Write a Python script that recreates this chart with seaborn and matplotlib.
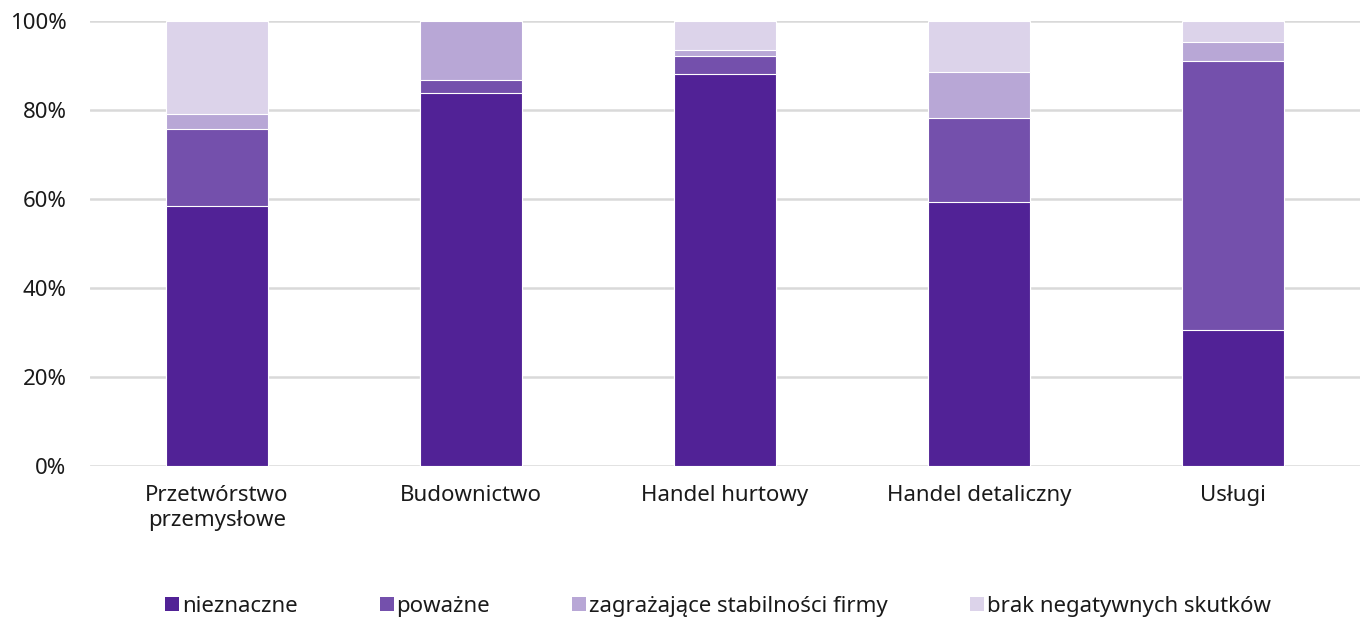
import pandas as pd
import numpy as np
import seaborn as sns
import matplotlib.pyplot as plt
from matplotlib.patches import Patch

categories = ["Przetwórstwo\nprzemysłowe", "Budownictwo", "Handel hurtowy", "Handel detaliczny", "Usługi"]
series_names = ["nieznaczne", "poważne", "zagrażające stabilności firmy", "brak negatywnych skutków"]
nieznaczne = [58.4, 83.8, 88.1, 59.3, 30.6]
powazne = [17.3, 2.9, 4.0, 18.9, 60.4]
zagrazajace = [3.4, 13.3, 1.4, 10.3, 4.3]
brak = [20.9, 0.0, 6.5, 11.5, 4.7]
colors = ["#512296", "#7450ac", "#b8a7d6", "#dcd3ea"]

df = pd.DataFrame({"kategoria": categories, series_names[0]: nieznaczne, series_names[1]: powazne,
                   series_names[2]: zagrazajace, series_names[3]: brak})
cum = df[series_names].cumsum(axis=1)

sns.set_style("white")
plt.rcParams["font.family"] = ["Noto Sans", "DejaVu Sans"]

fig = plt.figure(figsize=(13.62, 6.18), dpi=100)
ax = fig.add_axes([90/1362, (618-466)/618, 1270/1362, 445/618])

# draw cumulative layers from top to bottom so each lower layer covers the one above
for name, col in reversed(list(zip(series_names, colors))):
    sns.barplot(x=df["kategoria"], y=cum[name], color=col, width=0.4, edgecolor="white",
                linewidth=0.8, saturation=1, ax=ax, zorder=3)

ax.set_ylim(0, 100)
ax.set_yticks(np.arange(0, 101, 20))
ax.set_yticklabels([f"{v}%" for v in range(0, 101, 20)])
ax.yaxis.grid(True, color="#d9d9d9", linewidth=1.8, zorder=0)
ax.set_axisbelow(True)
for s in ax.spines.values():
    s.set_visible(False)
ax.tick_params(axis="both", length=0, labelsize=16, colors="#1a1a1a")
ax.tick_params(axis="x", pad=14)
ax.tick_params(axis="y", pad=17)
ax.set_xlabel("")
ax.set_ylabel("")

handles = [Patch(facecolor=c, edgecolor="none", label=n) for n, c in zip(series_names, colors)]
ax.legend(handles=handles, loc="center", bbox_to_anchor=(0.4945, -0.315), ncol=4, frameon=False,
          fontsize=16, handlelength=0.63, handleheight=0.63, handletextpad=0.12, columnspacing=3.7,
          labelcolor="#1a1a1a")

fig.savefig("out.png", dpi=100)
